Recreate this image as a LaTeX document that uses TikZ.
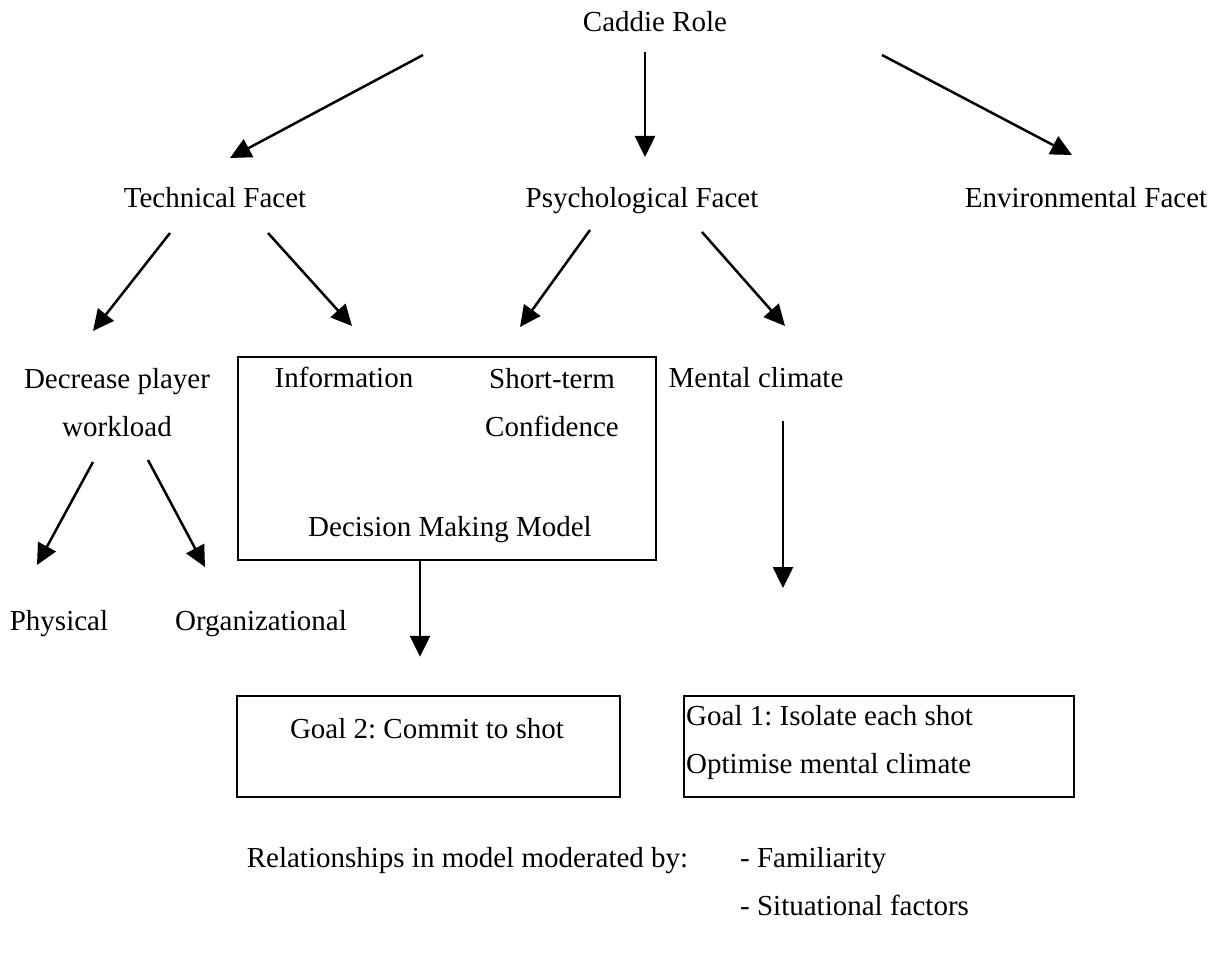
\documentclass[tikz,border=0pt]{standalone}
\usepackage{fontspec}
\setmainfont{Liberation Serif}
\usetikzlibrary{arrows.meta}
\begin{document}
\frenchspacing
\begin{tikzpicture}[x=1pt,y=-1pt,
  every node/.style={font=\fontsize{29}{48}\selectfont, inner sep=0pt},
  lbl/.style={align=center, text height=20pt, text depth=1pt},
  multi/.style={align=#1},
  frame/.style={draw, line width=2.5pt},
  arr/.style={line width=2.5pt, -{Triangle[length=21pt,width=20pt]}}]
\useasboundingbox (0,0) rectangle (1220,979);
% text nodes
\node[lbl] (caddie) at (655,22) {Caddie Role};
\node[lbl] (tech) at (215,198) {Technical Facet};
\node[lbl] (psych) at (642,198) {Psychological Facet};
\node[lbl] (env) at (1086,198) {Environmental Facet};
\node[multi=center] (decr) at (117,403) {Decrease player\\workload};
\node[lbl] (info) at (344,378) {Information};
\node[multi=center] (shortconf) at (552,403) {Short-term\\Confidence};
\node[lbl] (dmm) at (450,527) {Decision Making Model};
\node[lbl] (mental) at (756,378) {Mental climate};
\node[lbl] (phys) at (59,621) {Physical};
\node[lbl] (org) at (261,621) {Organizational};
% boxes
\node[frame, minimum width=418pt, minimum height=203pt] (dmbox) at (447,458.5) {};
\node[frame, minimum width=383pt, minimum height=101pt] (goal2box) at (428.5,746.5) {};
\node[frame, minimum width=390pt, minimum height=101pt] (goal1box) at (879,746.5) {};
\node[lbl] (goal2) at (427,729) {Goal 2: Commit to shot};
\node[multi=left, anchor=west] (goal1) at (686,742.5) {Goal 1: Isolate each shot\\Optimise mental climate};
\node[lbl] (rel) at (467.5,858) {Relationships in model moderated by:};
\node[multi=left, anchor=west] (factors) at (740,881.5) {- Familiarity\\- Situational factors};
\coordinate (mcend) at (783,588);
% arrows
\draw[arr] ([shift={(-232,33)}]caddie.center) -- ([shift={(15,-40)}]tech.center);
\draw[arr] ([shift={(-10,30)}]caddie.center) -- ([shift={(3,-41)}]psych.center);
\draw[arr] ([shift={(227,33)}]caddie.center) -- ([shift={(-14,-43)}]env.center);
\draw[arr] ([shift={(-45,35)}]tech.center) -- ([shift={(-24,-72)}]decr.center);
\draw[arr] ([shift={(53,35)}]tech.center) -- ([shift={(8,-52)}]info.center);
\draw[arr] ([shift={(-52,32)}]psych.center) -- ([shift={(-32,-76)}]shortconf.center);
\draw[arr] ([shift={(60,34)}]psych.center) -- ([shift={(29,-52)}]mental.center);
\draw[arr] ([shift={(-24,59)}]decr.center) -- ([shift={(-22,-56)}]phys.center);
\draw[arr] ([shift={(31,57)}]decr.center) -- ([shift={(-56,-54)}]org.center);
\draw[arr] ([xshift=-27pt]dmbox.south) -- ([shift={(-8.5,-38)}]goal2box.north);
\draw[arr] ([shift={(27,43)}]mental.center) -- (mcend);
\end{tikzpicture}
\end{document}
